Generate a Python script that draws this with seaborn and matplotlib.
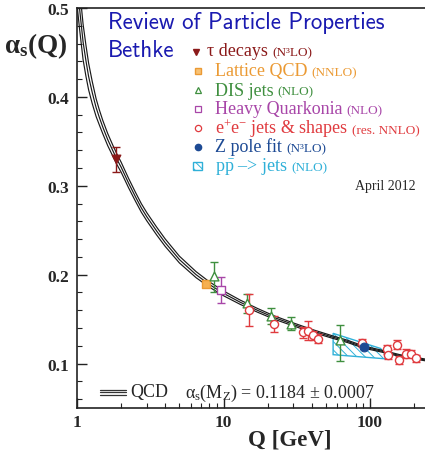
import matplotlib
matplotlib.use("Agg")
import matplotlib.pyplot as plt
import seaborn as sns
import numpy as np
from matplotlib.lines import Line2D
from matplotlib.patches import Rectangle
from matplotlib.offsetbox import TextArea, HPacker, AnnotationBbox
from matplotlib.ticker import MultipleLocator, LogLocator, NullFormatter

# ---------------------------------------------------------------- data
# QCD running coupling: central curve and half-width of its uncertainty band
q_curve = [1.0, 1.04, 1.1, 1.15, 1.2, 1.27, 1.35, 1.42, 1.5, 1.62, 1.75, 1.87,
           2.0, 2.25, 2.5, 2.75, 3.0, 3.5, 4.0, 5.0, 6.5, 8.0, 10.0, 13.0,
           17.0, 22.0, 30.0, 40.0, 55.0, 70.0, 91.19, 120.0, 160.0, 240.0]
as_curve = [0.530, 0.500, 0.462, 0.441, 0.423, 0.405, 0.388, 0.377, 0.366,
            0.352, 0.340, 0.330, 0.321, 0.303, 0.288, 0.275, 0.265, 0.249,
            0.236, 0.217, 0.200, 0.189, 0.179, 0.169, 0.160, 0.152, 0.144,
            0.137, 0.130, 0.125, 0.1184, 0.114, 0.109, 0.104]
as_band = [0.026, 0.023, 0.020, 0.0175, 0.015, 0.0125, 0.010, 0.0085, 0.0075,
           0.0068, 0.0062, 0.0059, 0.0056, 0.0053, 0.0050, 0.0048, 0.0046,
           0.0044, 0.0042, 0.0038, 0.0034, 0.0030, 0.0027, 0.0024, 0.0021,
           0.0019, 0.0017, 0.0015, 0.0014, 0.0013, 0.0012, 0.0011, 0.0010,
           0.0010]

# tau decays
tau_q = [1.85]
tau_as = [0.330]
tau_lo = [0.015]
tau_hi = [0.014]

# lattice QCD
lat_q = [7.6]
lat_as = [0.190]
lat_err = [0.002]

# DIS jets
dis_q = [8.6, 14.5, 21.0, 29.0, 62.0]
dis_as = [0.199, 0.168, 0.154, 0.145, 0.126]
dis_lo = [0.018, 0.011, 0.009, 0.0075, 0.023]
dis_hi = [0.015, 0.010, 0.009, 0.0075, 0.017]

# heavy quarkonia
hq_q = [9.6]
hq_as = [0.183]
hq_err = [0.0145]

# e+e- jets & shapes
ee_q = [15.0, 22.0, 35.0, 38.0, 41.0, 44.5, 88.0, 130.0, 133.0, 152.0,
        157.0, 175.0, 190.0, 205.0]
ee_as = [0.160, 0.1445, 0.135, 0.137, 0.132, 0.128, 0.123, 0.116, 0.110,
         0.121, 0.104, 0.111, 0.111, 0.106]
ee_err = [0.018, 0.0095, 0.006, 0.011, 0.005, 0.005, 0.0045, 0.005, 0.005,
          0.005, 0.005, 0.005, 0.004, 0.004]

# Z pole fit
z_q = [91.19]
z_as = [0.119]
z_err = [0.0027]

# p pbar -> jets region (outline)
pp_q = [56.0, 56.0, 118.0, 135.0]
pp_as = [0.110, 0.134, 0.117, 0.105]

# ---------------------------------------------------------------- style
sns.set_style("ticks")
SERIF = "Liberation Serif"
TITLE_FONT = ["cmss10", "Liberation Sans"]
plt.rcParams["font.family"] = [SERIF, "DejaVu Serif"]
plt.rcParams["mathtext.fontset"] = "custom"
plt.rcParams["mathtext.rm"] = "Liberation Serif"
plt.rcParams["mathtext.it"] = "Liberation Serif:italic"
plt.rcParams["mathtext.bf"] = "Liberation Serif:bold"
plt.rcParams["hatch.linewidth"] = 0.7

C_TAU = "#8b1a1a"
C_LAT = "#eb9a34"
C_DIS = "#3f8f3f"
C_HQ = "#a846a8"
C_EE = "#e03a3e"
C_Z = "#1d4a94"
C_PP = "#2fb0d8"
C_TITLE = "#1a1ab0"

W, H = 425, 452
fig = plt.figure(figsize=(W / 100, H / 100), dpi=100)
ax = fig.add_axes([77 / W, 1 - 409 / H, (425 - 77) / W, 400 / H])
ax.set_xscale("log")


def fx(px):
    return px / W


def fy(py):
    return 1 - py / H


# ---------------------------------------------------------------- marks
ax.fill(pp_q, pp_as, facecolor="none", edgecolor=C_PP, hatch="\\\\\\\\",
        lw=1.0, zorder=1)

curve_lo = np.array(as_curve) - np.array(as_band)
curve_hi = np.array(as_curve) + np.array(as_band)
for ys in (curve_lo, as_curve, curve_hi):
    sns.lineplot(x=q_curve, y=ys, ax=ax, color="#1a1a1a", lw=0.85,
                 sort=False, zorder=2)

ekw = dict(fmt="none", capsize=2.6, elinewidth=1.0, capthick=1.0, zorder=3)
ax.errorbar(tau_q, tau_as, yerr=[tau_lo, tau_hi], ecolor=C_TAU, **ekw)
ax.errorbar(lat_q, lat_as, yerr=lat_err, ecolor=C_LAT, **ekw)
ax.errorbar(dis_q, dis_as, yerr=[dis_lo, dis_hi], ecolor=C_DIS, **ekw)
ax.errorbar(hq_q, hq_as, yerr=hq_err, ecolor=C_HQ, **ekw)
ax.errorbar(ee_q, ee_as, yerr=ee_err, ecolor=C_EE, **ekw)
ax.errorbar(z_q, z_as, yerr=z_err, ecolor=C_Z, **ekw)

skw = dict(ax=ax, zorder=4, legend=False)
sns.scatterplot(x=tau_q, y=tau_as, marker="v", s=40, color=C_TAU,
                edgecolor=C_TAU, linewidth=0.8, **skw)
sns.scatterplot(x=lat_q, y=lat_as, marker="s", s=38, color="#f6b050",
                edgecolor=C_LAT, linewidth=1.0, **skw)
sns.scatterplot(x=dis_q, y=dis_as, marker="^", s=40, color="white",
                edgecolor=C_DIS, linewidth=1.0, **skw)
sns.scatterplot(x=hq_q, y=hq_as, marker="s", s=38, color="white",
                edgecolor=C_HQ, linewidth=1.0, **skw)
sns.scatterplot(x=ee_q, y=ee_as, marker="o", s=34, color="white",
                edgecolor=C_EE, linewidth=1.0, **skw)
sns.scatterplot(x=z_q, y=z_as, marker="o", s=40, color=C_Z,
                edgecolor=C_Z, linewidth=0.8, **skw)

# ---------------------------------------------------------------- axes
ax.set_xlim(1, 10 ** ((425 - 77) / 146.5))
ax.set_ylim(0.05, 0.5)
ax.set_xticks([1, 10, 100], ["1", "10", "100"])
ax.set_yticks([0.1, 0.2, 0.3, 0.4, 0.5], ["0.1", "0.2", "0.3", "0.4", "0.5"])
ax.yaxis.set_minor_locator(MultipleLocator(0.02))
ax.xaxis.set_minor_locator(LogLocator(base=10, subs=np.arange(2, 10)))
ax.xaxis.set_minor_formatter(NullFormatter())
ax.tick_params(which="both", direction="in", color="#222222")
ax.tick_params(which="major", length=7, width=1.0)
ax.tick_params(which="minor", length=3.5, width=0.8)
ax.tick_params(axis="y", which="major", pad=6)
ax.tick_params(axis="x", which="major", pad=4)
for lab in ax.get_xticklabels() + ax.get_yticklabels():
    lab.set_fontfamily(SERIF)
    lab.set_fontweight("bold")
    lab.set_fontsize(12.5)
ax.set_xlabel("")
ax.set_ylabel("")
for side in ("left", "bottom", "top"):
    ax.spines[side].set_linewidth(1.2)
    ax.spines[side].set_color("#222222")
ax.spines["right"].set_visible(False)

fig.text(fx(4), fy(46), r"$\mathbf{\alpha_s(Q)}$", fontsize=19.5,
         ha="left", va="center")
fig.text(fx(290), fy(440), "Q [GeV]", fontsize=16.5, fontweight="bold",
         family=SERIF, ha="center", va="center")

# ---------------------------------------------------------------- headings
fig.text(fx(108), fy(23), "Review of Particle Properties", family=TITLE_FONT,
         fontsize=16.5, color=C_TITLE, ha="left", va="center")
fig.text(fx(108), fy(51), "Bethke", family=TITLE_FONT, fontsize=16.5,
         color=C_TITLE, ha="left", va="center")
fig.text(fx(416), fy(187), "April 2012", family=SERIF, fontsize=10,
         ha="right", va="center")

# ---------------------------------------------------------------- key
rows = [
    ("τ decays", "(N³LO)", C_TAU, 52, 207),
    ("Lattice QCD", "(NNLO)", C_LAT, 71.5, 215),
    ("DIS jets", "(NLO)", C_DIS, 91, 215),
    ("Heavy Quarkonia", "(NLO)", C_HQ, 110, 215),
    (r"e$^{+}$e$^{-}$ jets & shapes", "(res. NNLO)", C_EE, 128.5, 215),
    ("Z pole fit", "(N³LO)", C_Z, 147.5, 215),
    (r"$\mathrm{p\bar{p}}$ –> jets", "(NLO)", C_PP, 166.5, 215),
]
for main, small, col, ypx, xpx in rows:
    box = HPacker(children=[
        TextArea(main, textprops=dict(color=col, fontsize=13, family=SERIF)),
        TextArea(small, textprops=dict(color=col, fontsize=9.5, family=SERIF)),
    ], align="baseline", pad=0, sep=3)
    ab = AnnotationBbox(box, (fx(xpx), fy(ypx)), xycoords="figure fraction",
                        box_alignment=(0, 0.5), frameon=False, pad=0)
    fig.add_artist(ab)

key_x = fx(198)
key_kw = dict(transform=fig.transFigure, clip_on=False, linestyle="none")
fig.add_artist(Line2D([fx(196)], [fy(52.5)], marker="v", ms=5, color=C_TAU,
                      **key_kw))
fig.add_artist(Line2D([key_x], [fy(71.5)], marker="s", ms=4.5,
                      markerfacecolor="#f8c275", markeredgecolor=C_LAT,
                      markeredgewidth=1.0, **key_kw))
fig.add_artist(Line2D([key_x], [fy(91)], marker="^", ms=4.5,
                      markerfacecolor="white", markeredgecolor=C_DIS,
                      markeredgewidth=0.9, **key_kw))
fig.add_artist(Line2D([key_x], [fy(110)], marker="s", ms=4.5,
                      markerfacecolor="white", markeredgecolor=C_HQ,
                      markeredgewidth=0.9, **key_kw))
fig.add_artist(Line2D([key_x], [fy(128.5)], marker="o", ms=4.5,
                      markerfacecolor="white", markeredgecolor=C_EE,
                      markeredgewidth=0.9, **key_kw))
fig.add_artist(Line2D([key_x], [fy(147.5)], marker="o", ms=4.5, color=C_Z,
                      **key_kw))
fig.add_artist(Rectangle((fx(193), fy(171)), 9 / W, 8 / H,
                         transform=fig.transFigure, facecolor="white",
                         edgecolor=C_PP, hatch="\\\\\\\\", lw=1.0))

# QCD band key and world-average text
for ypx in (390.8, 393.3, 395.8):
    fig.add_artist(Line2D([fx(100), fx(126)], [fy(ypx), fy(ypx)],
                          transform=fig.transFigure, color="#333333",
                          lw=0.9))
fig.text(fx(130), fy(393), "QCD", family=SERIF, fontsize=13,
         ha="left", va="center")
fig.text(fx(185), fy(393),
         r"$\mathrm{\alpha_s(M_Z)}$ = 0.1184 ± 0.0007",
         family=SERIF, fontsize=13, ha="left", va="center")

fig.savefig("out.png", dpi=100)
